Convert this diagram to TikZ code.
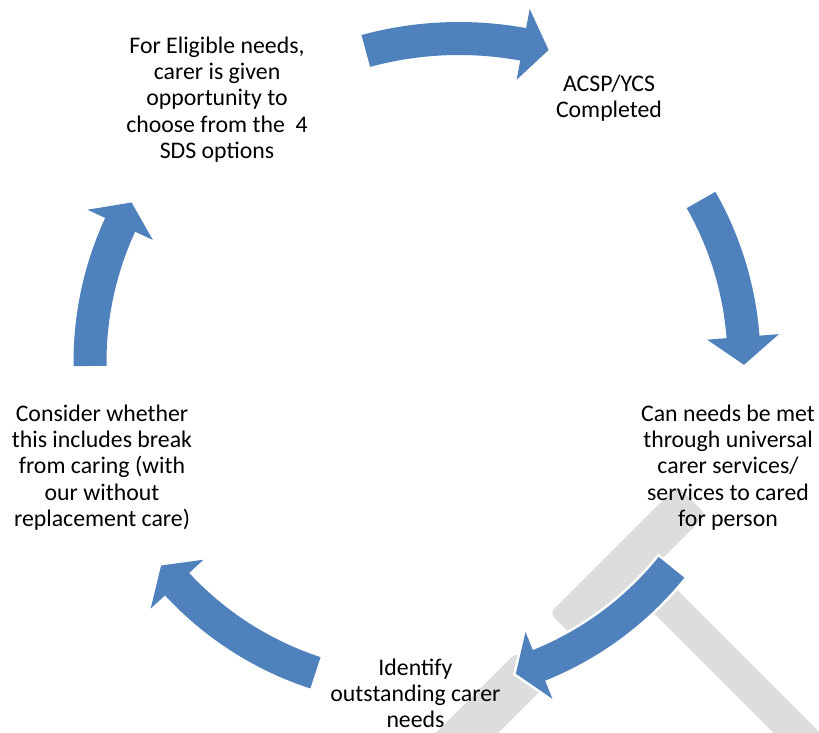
\documentclass[tikz,border=0pt]{standalone}
\usepackage{fontspec}
\setmainfont{Carlito}
\usepackage{tikz}
\usetikzlibrary{calc}
\definecolor{cycleblue}{RGB}{79,129,189}
\definecolor{gavelgrey}{RGB}{221,221,221}
\tikzset{
  steptext/.style={align=center, inner sep=0pt, font=\fontsize{23.8}{26.3}\selectfont},
  cyclearrow/.style={fill=cycleblue, preaction={draw=white, line width=5pt, line join=miter}},
  gavelbar/.style={fill=gavelgrey, rounded corners=6pt}
}

\begin{document}
\begin{tikzpicture}[x=1pt, y=1pt]
    \useasboundingbox (0,0) rectangle (819,733);

    % gavel in the background
    \begin{scope}
      \clip (0,0) rectangle (819,733);
      \fill[gavelbar, rotate around={-45:(628,169)}] (628,152.5) rectangle (960,185.5);
      \fill[gavelbar, rotate around={45:(628,169)}] (538,148.5) rectangle (718,189.5);
      \fill[gavelbar, rotate around={45:(532,65)}] (352,43) rectangle (532,87);
    \end{scope}

    % curved arrows: centre / radius / tail, head base and tip angles
    \foreach \cx/\cy/\R/\t/\b/\p in {459/339/355.5/105.2/79.6/75.4,
                                     417/371/327/29.7/4.4/-0.5,
                                     417/371/327/-38.9/-68.1/-72.4,
                                     417/371/327/-108.1/-137.2/-141.5,
                                     417/371/327/180.7/155.2/150.8}{
      \coordinate (c) at (\cx,\cy);
      \pgfmathsetmacro{\Ro}{\R+16.5}
      \pgfmathsetmacro{\Ri}{\R-16.5}
      \pgfmathsetmacro{\Ho}{\R+36}
      \pgfmathsetmacro{\Hi}{\R-36}
      \fill[cyclearrow] ($(c)+(\t:\Ro pt)$)
        arc[start angle=\t, end angle=\b, radius=\Ro pt]
        -- ($(c)+(\b:\Ho pt)$) -- ($(c)+(\p:\R pt)$) -- ($(c)+(\b:\Hi pt)$)
        -- ($(c)+(\b:\Ri pt)$)
        arc[start angle=\b, end angle=\t, radius=\Ri pt] -- cycle;
    }

    \node[steptext] (eligible) at (217,633.5)
      {For Eligible needs,\\carer is given\\opportunity to\\choose from the\ \ 4\\SDS options};
    \node[steptext] (acsp) at (609,634.5) {ACSP/YCS\\Completed};
    \node[steptext] (universal) at (728,265.5)
      {Can needs be met\\through universal\\carer services/\\services to cared\\for person};
    \node[steptext] (identify) at (415.5,39.5) {Identify\\outstanding carer\\needs};
    \node[steptext] (breakcare) at (102,265.5)
      {Consider whether\\this includes break\\from caring (with\\our without\\replacement care)};
\end{tikzpicture}
\end{document}
